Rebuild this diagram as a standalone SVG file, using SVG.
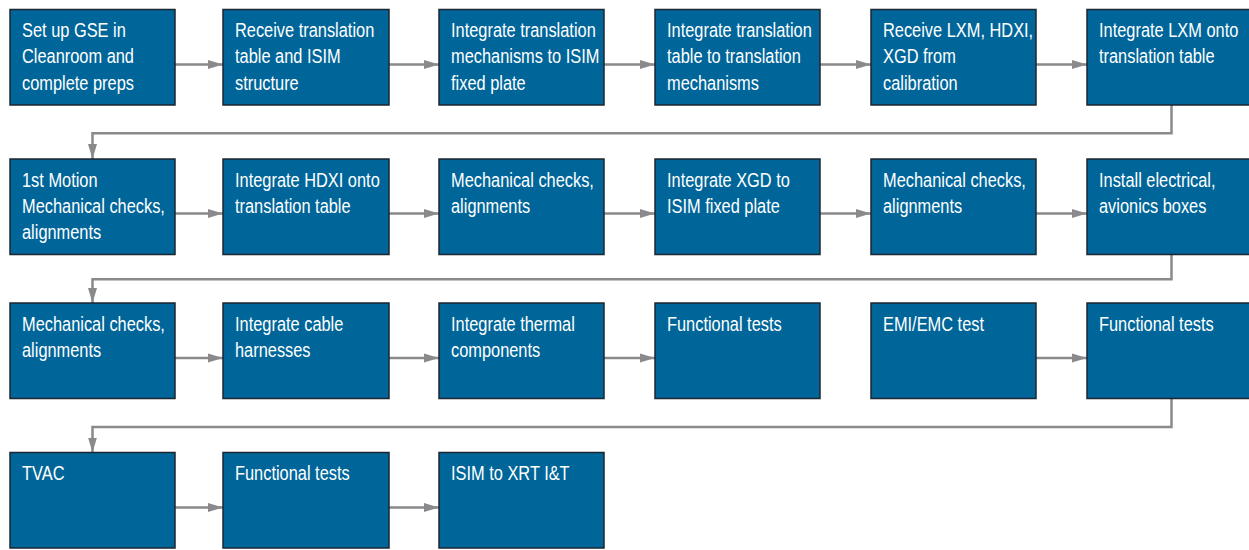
<svg xmlns="http://www.w3.org/2000/svg" width="1249" height="550" viewBox="0 0 1249 550">
<style>
.box{fill:#00669a;stroke:#1b2630;stroke-width:1.5}
.t{font-family:"Liberation Sans",Arial,sans-serif;font-size:21px;fill:#ffffff}
.c{fill:none;stroke:#8a8a8d;stroke-width:2.5}
</style>
<defs>
<marker id="ah" viewBox="0 0 15 10" refX="15" refY="5" markerWidth="15" markerHeight="10" markerUnits="userSpaceOnUse" orient="auto">
<path d="M0,0.5 L15,5 L0,9.5 z" fill="#8a8a8d"/>
</marker>
</defs>
<rect width="1249" height="550" fill="#ffffff"/>
<g id="connectors">
<path class="c" marker-end="url(#ah)" d="M175,64.5 H223"/>
<path class="c" marker-end="url(#ah)" d="M389,64.5 H439"/>
<path class="c" marker-end="url(#ah)" d="M604,64.5 H655"/>
<path class="c" marker-end="url(#ah)" d="M820,64.5 H871"/>
<path class="c" marker-end="url(#ah)" d="M1036,64.5 H1087"/>
<path class="c" marker-end="url(#ah)" d="M1171.5,105 V133.3 H92.5 V159"/>
<path class="c" marker-end="url(#ah)" d="M175,213.5 H223"/>
<path class="c" marker-end="url(#ah)" d="M389,213.5 H439"/>
<path class="c" marker-end="url(#ah)" d="M604,213.5 H655"/>
<path class="c" marker-end="url(#ah)" d="M820,213.5 H871"/>
<path class="c" marker-end="url(#ah)" d="M1036,213.5 H1087"/>
<path class="c" marker-end="url(#ah)" d="M1171.5,254.5 V279.3 H92.5 V303"/>
<path class="c" marker-end="url(#ah)" d="M175,358 H223"/>
<path class="c" marker-end="url(#ah)" d="M389,358 H439"/>
<path class="c" marker-end="url(#ah)" d="M604,358 H655"/>
<path class="c" marker-end="url(#ah)" d="M1036,358 H1087"/>
<path class="c" marker-end="url(#ah)" d="M1171.5,398.5 V427 H92.5 V452.5"/>
<path class="c" marker-end="url(#ah)" d="M175,507.5 H223"/>
<path class="c" marker-end="url(#ah)" d="M389,507.5 H439"/>
</g>
<g id="n1"><rect class="box" x="10" y="9.5" width="165" height="95.5"/><text class="t" transform="translate(22,37) scale(0.78,1)"><tspan x="0">Set up GSE in</tspan><tspan x="0" dy="26.5">Cleanroom and</tspan><tspan x="0" dy="26.5">complete preps</tspan></text></g>
<g id="n2"><rect class="box" x="223" y="9.5" width="166" height="95.5"/><text class="t" transform="translate(235,37) scale(0.78,1)"><tspan x="0">Receive translation</tspan><tspan x="0" dy="26.5">table and ISIM</tspan><tspan x="0" dy="26.5">structure</tspan></text></g>
<g id="n3"><rect class="box" x="439" y="9.5" width="165" height="95.5"/><text class="t" transform="translate(451,37) scale(0.78,1)"><tspan x="0">Integrate translation</tspan><tspan x="0" dy="26.5">mechanisms to ISIM</tspan><tspan x="0" dy="26.5">fixed plate</tspan></text></g>
<g id="n4"><rect class="box" x="655" y="9.5" width="165" height="95.5"/><text class="t" transform="translate(667,37) scale(0.78,1)"><tspan x="0">Integrate translation</tspan><tspan x="0" dy="26.5">table to translation</tspan><tspan x="0" dy="26.5">mechanisms</tspan></text></g>
<g id="n5"><rect class="box" x="871" y="9.5" width="165" height="95.5"/><text class="t" transform="translate(883,37) scale(0.78,1)"><tspan x="0">Receive LXM, HDXI,</tspan><tspan x="0" dy="26.5">XGD from</tspan><tspan x="0" dy="26.5">calibration</tspan></text></g>
<g id="n6"><rect class="box" x="1087" y="9.5" width="166" height="95.5"/><text class="t" transform="translate(1099,37) scale(0.78,1)"><tspan x="0">Integrate LXM onto</tspan><tspan x="0" dy="26.5">translation table</tspan></text></g>
<g id="n7"><rect class="box" x="10" y="159" width="165" height="95.5"/><text class="t" transform="translate(22,186.5) scale(0.78,1)"><tspan x="0">1st Motion</tspan><tspan x="0" dy="26.5">Mechanical checks,</tspan><tspan x="0" dy="26.5">alignments</tspan></text></g>
<g id="n8"><rect class="box" x="223" y="159" width="166" height="95.5"/><text class="t" transform="translate(235,186.5) scale(0.78,1)"><tspan x="0">Integrate HDXI onto</tspan><tspan x="0" dy="26.5">translation table</tspan></text></g>
<g id="n9"><rect class="box" x="439" y="159" width="165" height="95.5"/><text class="t" transform="translate(451,186.5) scale(0.78,1)"><tspan x="0">Mechanical checks,</tspan><tspan x="0" dy="26.5">alignments</tspan></text></g>
<g id="n10"><rect class="box" x="655" y="159" width="165" height="95.5"/><text class="t" transform="translate(667,186.5) scale(0.78,1)"><tspan x="0">Integrate XGD to</tspan><tspan x="0" dy="26.5">ISIM fixed plate</tspan></text></g>
<g id="n11"><rect class="box" x="871" y="159" width="165" height="95.5"/><text class="t" transform="translate(883,186.5) scale(0.78,1)"><tspan x="0">Mechanical checks,</tspan><tspan x="0" dy="26.5">alignments</tspan></text></g>
<g id="n12"><rect class="box" x="1087" y="159" width="166" height="95.5"/><text class="t" transform="translate(1099,186.5) scale(0.78,1)"><tspan x="0">Install electrical,</tspan><tspan x="0" dy="26.5">avionics boxes</tspan></text></g>
<g id="n13"><rect class="box" x="10" y="303" width="165" height="95.5"/><text class="t" transform="translate(22,330.5) scale(0.78,1)"><tspan x="0">Mechanical checks,</tspan><tspan x="0" dy="26.5">alignments</tspan></text></g>
<g id="n14"><rect class="box" x="223" y="303" width="166" height="95.5"/><text class="t" transform="translate(235,330.5) scale(0.78,1)"><tspan x="0">Integrate cable</tspan><tspan x="0" dy="26.5">harnesses</tspan></text></g>
<g id="n15"><rect class="box" x="439" y="303" width="165" height="95.5"/><text class="t" transform="translate(451,330.5) scale(0.78,1)"><tspan x="0">Integrate thermal</tspan><tspan x="0" dy="26.5">components</tspan></text></g>
<g id="n16"><rect class="box" x="655" y="303" width="165" height="95.5"/><text class="t" transform="translate(667,330.5) scale(0.78,1)">Functional tests</text></g>
<g id="n17"><rect class="box" x="871" y="303" width="165" height="95.5"/><text class="t" transform="translate(883,330.5) scale(0.78,1)">EMI/EMC test</text></g>
<g id="n18"><rect class="box" x="1087" y="303" width="166" height="95.5"/><text class="t" transform="translate(1099,330.5) scale(0.78,1)">Functional tests</text></g>
<g id="n19"><rect class="box" x="10" y="452.5" width="165" height="95.5"/><text class="t" transform="translate(22,480) scale(0.78,1)">TVAC</text></g>
<g id="n20"><rect class="box" x="223" y="452.5" width="166" height="95.5"/><text class="t" transform="translate(235,480) scale(0.78,1)">Functional tests</text></g>
<g id="n21"><rect class="box" x="439" y="452.5" width="165" height="95.5"/><text class="t" transform="translate(451,480) scale(0.78,1)">ISIM to XRT I&amp;T</text></g>
</svg>
